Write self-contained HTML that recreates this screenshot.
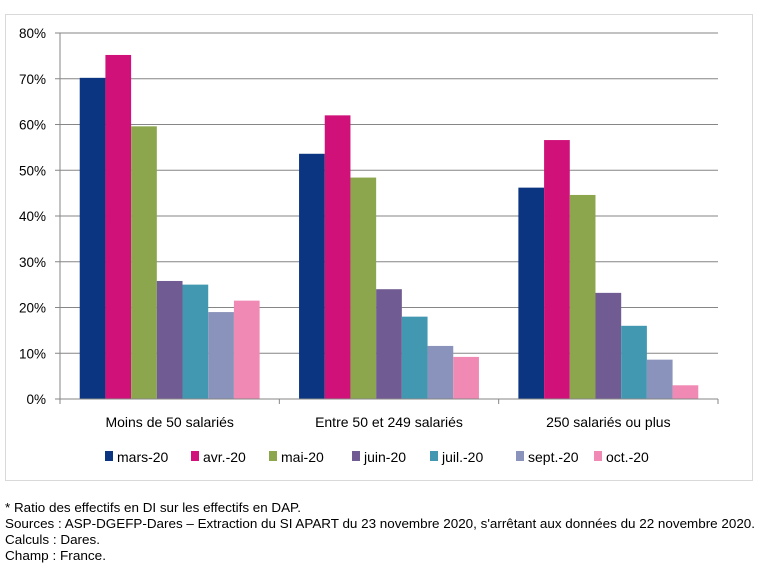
<!DOCTYPE html>
<html><head><meta charset="utf-8"><style>
body{margin:0;background:#fff;}
svg{display:block;font-family:"Liberation Sans",sans-serif;}
</style></head><body>
<svg id="chart" width="766" height="580" viewBox="0 0 766 580">
<rect x="5.5" y="14.5" width="747" height="466" fill="#fff" stroke="#d9d9d9" stroke-width="1"/>
<g id="grid"></g><g id="bars"></g><g id="axes"></g><g id="legend"></g>
<g font-size="12.5" fill="#000">
<text x="5" y="512" textLength="296" lengthAdjust="spacingAndGlyphs">* Ratio des effectifs en DI sur les effectifs en DAP.</text>
<text x="5" y="528" textLength="750" lengthAdjust="spacingAndGlyphs">Sources : ASP-DGEFP-Dares  – Extraction du SI APART du 23 novembre 2020, s'arrêtant aux données du 22 novembre 2020.</text>
<text x="5" y="544" textLength="95" lengthAdjust="spacingAndGlyphs">Calculs : Dares.</text>
<text x="5" y="560" textLength="101" lengthAdjust="spacingAndGlyphs">Champ : France.</text>
</g>
</svg>
<script>
const categories=["Moins de 50 salariés","Entre 50 et 249 salariés","250 salariés ou plus"];
const seriesNames=["mars-20","avr.-20","mai-20","juin-20","juil.-20","sept.-20","oct.-20"];
const seriesColors=["#0b3580","#d0117a","#8ba64c","#715b93","#4198b0","#8a93bb","#f08ab4"];
const mars=[70.2,53.6,46.2];
const avr=[75.2,62.0,56.6];
const mai=[59.6,48.4,44.6];
const juin=[25.8,24.0,23.2];
const juil=[25.0,18.0,16.0];
const sept=[19.0,11.6,8.6];
const oct=[21.5,9.2,3.0];
const yTicks=[0,10,20,30,40,50,60,70,80];
const series=[mars,avr,mai,juin,juil,sept,oct];
const NS="http://www.w3.org/2000/svg";
const X0=60,X1=718,Y0=399,Y1=33,YMAX=80;
const y=v=>Y0-(v/YMAX)*(Y0-Y1);
const gw=(X1-X0)/categories.length;
const bw=25.7,off=(gw-bw*seriesNames.length)/2;
function mk(t,a,p){const e=document.createElementNS(NS,t);for(const k in a)e.setAttribute(k,a[k]);p.appendChild(e);return e;}
const grid=document.getElementById('grid'),axes=document.getElementById('axes'),bars=document.getElementById('bars'),leg=document.getElementById('legend');
yTicks.forEach(t=>{
 if(t>0){const l=mk('line',{x1:X0,x2:X1,y1:y(t),y2:y(t),stroke:'#868686','stroke-width':1},grid);
 
 }
 const tk=mk('line',{x1:X0-5,x2:X0,y1:y(t),y2:y(t),stroke:'#868686'},axes);
 
 
 const tx=mk('text',{x:X0-14,y:y(t)+5,'text-anchor':'end','font-size':13.5},axes);
 tx.textContent=t+'%';
 
 
});
categories.forEach((c,i)=>{
 series.forEach((s,j)=>{
  const bx=X0+i*gw+off+j*bw;
  const r=mk('rect',{x:bx,y:y(s[i]),width:bw,height:Y0-y(s[i]),fill:seriesColors[j]},bars);
  
  
 });
 const tx=mk('text',{x:X0+(i+0.5)*gw,y:427,'text-anchor':'middle','font-size':14},axes);
 tx.textContent=c;
 
 
});
for(let i=0;i<=categories.length;i++){
 const tk=mk('line',{x1:X0+i*gw,x2:X0+i*gw,y1:Y0,y2:Y0+5,stroke:'#868686'},axes);
 
 
}
const ya=mk('line',{x1:X0,x2:X0,y1:Y1,y2:Y0,stroke:'#868686'},axes);


const xa=mk('line',{x1:X0-5,x2:X1,y1:Y0,y2:Y0,stroke:'#868686'},axes);


const lx=[105,191,269,352,430,516,594];
seriesNames.forEach((n,j)=>{
 const g=mk('g',{},leg);
 
 
 mk('rect',{x:lx[j],y:451,width:8,height:10,fill:seriesColors[j]},g);
 const t=mk('text',{x:lx[j]+12,y:462,'font-size':14},g);
 t.textContent=n;
});
</script>
</body></html>
